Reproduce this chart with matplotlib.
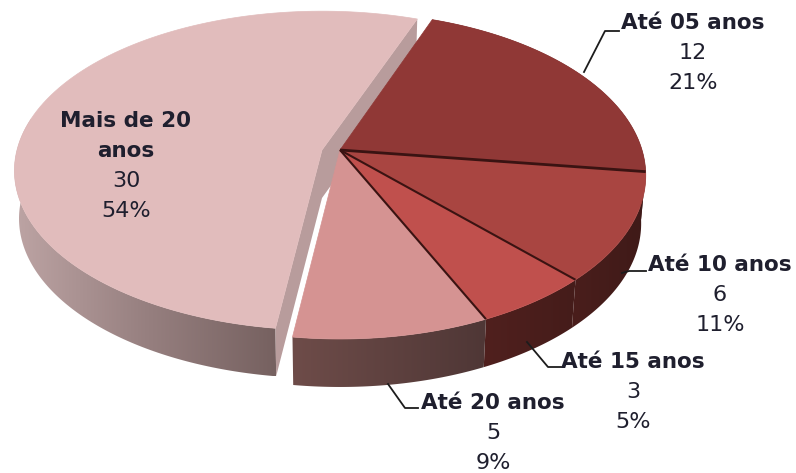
import numpy as np
from matplotlib import pyplot as plt
from matplotlib.colors import LinearSegmentedColormap
from matplotlib.patches import Polygon

categories = ["Até 05 anos", "Até 10 anos", "Até 15 anos", "Até 20 anos", "Mais de 20\nanos"]
values = [12, 6, 3, 5, 30]
percents = ["21%", "11%", "5%", "9%", "54%"]

top_colors = ["#903836", "#a94541", "#c0504d", "#d59392", "#e1bcbc"]
wall_colors = [
    ["#4a1e1c", "#3f1a18"],
    ["#4a1e1c", "#3f1a18"],
    ["#50201e", "#451c1a"],
    ["#6e4c49", "#4f3736"],
    ["#bda4a4", "#978080", "#766160"],
]

# label centres and leader lines, in picture pixels
label_x = [693, 720, 633, 493, 126]
label_y = [23, 265, 362, 403, 121]
leaders = [
    [(584, 72), (605, 31), (619, 31)],
    [(622, 273), (629, 271), (646, 271)],
    [(527, 342), (548, 367), (561, 367)],
    [(388, 384), (405, 408), (418, 408)],
    None,
]

DEPTH = 48
start_angle = 20.5


def disk_point(angle, apex, a, b, k):
    # perspective view of the unit disk, angle clockwise from the top
    t = np.radians(angle)
    x, y = np.sin(t), np.cos(t)
    return apex[0] + a * x / (1 + k * y), apex[1] - b * y / (1 + k * y)


def arc(a0, a1, apex, a, b, k):
    angles = np.linspace(a0, a1, 120)
    xs, ys = disk_point(angles, apex, a, b, k)
    return np.column_stack([xs, ys])


def lower(pts, apex):
    out = pts.copy()
    out[:, 0] = apex[0] + (out[:, 0] - apex[0]) * 0.985
    out[:, 1] = out[:, 1] + DEPTH
    return out


def gradient_wall(ax, pts, colors):
    cmap = LinearSegmentedColormap.from_list("wall", colors)
    x0, x1 = pts[:, 0].min(), pts[:, 0].max()
    y0, y1 = pts[:, 1].min(), pts[:, 1].max()
    im = ax.imshow(np.linspace(0, 1, 256).reshape(1, -1), cmap=cmap, aspect="auto",
                   extent=(x0, x1, y1, y0), zorder=ax.zorder_next)
    im.set_clip_path(Polygon(pts, closed=True, transform=ax.transData))
    ax.zorder_next += 1


def flat(ax, pts, color, lw=0, edge=None):
    ax.add_patch(Polygon(pts, closed=True, facecolor=color, edgecolor=edge or color,
                         linewidth=lw, zorder=ax.zorder_next, joinstyle="round"))
    ax.zorder_next += 1


fig = plt.figure(figsize=(7.96, 4.73), dpi=100)
ax = fig.add_axes([0, 0, 1, 1])
ax.zorder_next = 2

total = sum(values)
edges = start_angle + np.cumsum([0] + values) * 360.0 / total

# exploded slice first, the rest of the pie sits on top of it
big_apex = (322, 150)
big = (big_apex, 305, 156.8, 0.1294)
big_arc = arc(edges[4], edges[5], *big)
front = arc(edges[4], 282, *big)  # only this part of the wall is seen
gradient_wall(ax, np.vstack([front, lower(front, big_apex)[::-1]]), wall_colors[4])
for corner in (big_arc[0], big_arc[-1]):
    low = lower(np.array([corner]), big_apex)[0]
    flat(ax, [big_apex, corner, low, (big_apex[0], big_apex[1] + DEPTH)], "#b89c9c")
flat(ax, np.vstack([[big_apex], big_arc]), top_colors[4], lw=0.5)

apex = (340, 150)
main = (apex, 302, 159.5, 0.156)
for i in range(4):
    pts = arc(edges[i], edges[i + 1], *main)
    gradient_wall(ax, np.vstack([pts, lower(pts, apex)[::-1]]), wall_colors[i])
for i in range(4):
    pts = arc(edges[i], edges[i + 1], *main)
    flat(ax, np.vstack([[apex], pts]), top_colors[i], lw=0.5)
for i in range(1, 4):
    x, y = disk_point(edges[i], *main)
    ax.plot([apex[0], x], [apex[1], y], color="#3a1312", lw=2.0 if i == 1 else 1.5,
            zorder=ax.zorder_next, solid_capstyle="butt")

for line in leaders:
    if line is not None:
        ax.plot([p[0] for p in line], [p[1] for p in line], color="#1c1c1c", lw=1.3,
                zorder=ax.zorder_next + 1)

text_kw = dict(ha="center", va="center", family="DejaVu Sans", color="#1f1f2e",
               zorder=ax.zorder_next + 2)
for i, name in enumerate(categories):
    y = label_y[i]
    for part in name.split("\n"):
        ax.text(label_x[i], y, part, fontweight="bold", fontsize=15.5, **text_kw)
        y += 30
    ax.text(label_x[i], y, str(values[i]), fontsize=16, **text_kw)
    ax.text(label_x[i], y + 30, percents[i], fontsize=16, **text_kw)

ax.set_xlim(0, 796)
ax.set_ylim(473, 0)
ax.axis("off")
fig.savefig("out.png", dpi=100)
